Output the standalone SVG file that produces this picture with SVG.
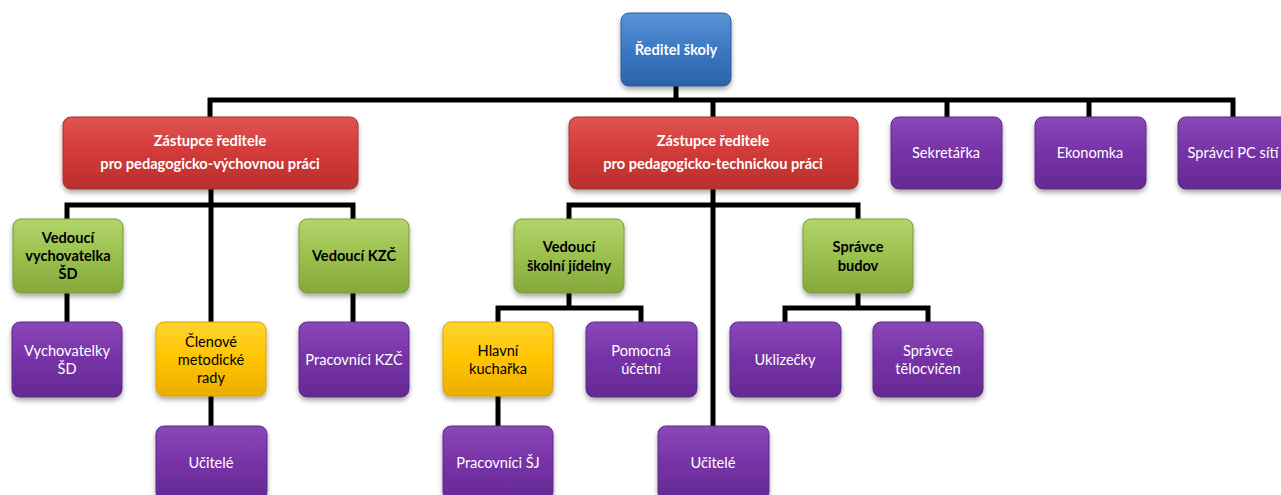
<svg xmlns="http://www.w3.org/2000/svg" width="1281" height="495" viewBox="0 0 1281 495">
<defs>
<linearGradient id="gBlue" x1="0" y1="0" x2="0" y2="1"><stop offset="0" stop-color="#5b95d6"/><stop offset="0.5" stop-color="#3a78c4"/><stop offset="1" stop-color="#2b63a8"/></linearGradient>
<linearGradient id="gRed" x1="0" y1="0" x2="0" y2="1"><stop offset="0" stop-color="#e05450"/><stop offset="0.5" stop-color="#d23a38"/><stop offset="1" stop-color="#b82f2d"/></linearGradient>
<linearGradient id="gGreen" x1="0" y1="0" x2="0" y2="1"><stop offset="0" stop-color="#b2d46a"/><stop offset="0.5" stop-color="#9bc04e"/><stop offset="1" stop-color="#84a83c"/></linearGradient>
<linearGradient id="gPurple" x1="0" y1="0" x2="0" y2="1"><stop offset="0" stop-color="#8a48b8"/><stop offset="0.5" stop-color="#7632a6"/><stop offset="1" stop-color="#652a92"/></linearGradient>
<linearGradient id="gYellow" x1="0" y1="0" x2="0" y2="1"><stop offset="0" stop-color="#ffd430"/><stop offset="0.5" stop-color="#ffc400"/><stop offset="1" stop-color="#eaae00"/></linearGradient>
<filter id="sh" x="-20%" y="-20%" width="140%" height="150%"><feDropShadow dx="0" dy="3" stdDeviation="2.5" flood-color="#000" flood-opacity="0.35"/></filter>
</defs>
<style>
.c{fill:none;stroke:#000;stroke-width:5;stroke-linejoin:miter;stroke-linecap:butt}
rect{filter:url(#sh)}
.blue{fill:url(#gBlue);stroke:#2a5e9e;stroke-width:1}
.red{fill:url(#gRed);stroke:#a83030;stroke-width:1}
.green{fill:url(#gGreen);stroke:#7a9c38;stroke-width:1}
.purple{fill:url(#gPurple);stroke:#5e2888;stroke-width:1}
.yellow{fill:url(#gYellow);stroke:#d8a400;stroke-width:1}
text{font-family:Lato,"Liberation Sans",sans-serif;font-size:14.6px;text-anchor:middle}
.wb{fill:#fff;font-weight:bold}
.bb{fill:#000;font-weight:bold}
.w{fill:#fff}
.b{fill:#000}
</style>
<g id="connectors">
<path class="c" d="M676 86 V100"/>
<path class="c" d="M210 117 V100 H1233 V117"/>
<path class="c" d="M713 100 V117 M947 100 V117 M1089 100 V117"/>
<path class="c" d="M67 219 V205 H353 V219"/>
<path class="c" d="M211 189 V322"/>
<path class="c" d="M67 293 V322 M353 293 V322 M211 396 V426"/>
<path class="c" d="M569 219 V205 H858 V219"/>
<path class="c" d="M713 189 V426"/>
<path class="c" d="M569 293 V308"/>
<path class="c" d="M498 322 V308 H641 V322"/>
<path class="c" d="M498 396 V426"/>
<path class="c" d="M858 293 V308"/>
<path class="c" d="M785 322 V308 H928 V322"/>
</g>
<g id="reditel"><rect class="blue" x="621" y="13" width="110" height="73" rx="8"/><text class="wb" x="676" y="55">Ředitel školy</text></g>
<g id="zastupce-vych"><rect class="red" x="63" y="117" width="295" height="72" rx="8"/><text class="wb" x="210" y="146">Zástupce ředitele</text><text class="wb" x="210" y="169">pro pedagogicko-výchovnou práci</text></g>
<g id="zastupce-tech"><rect class="red" x="569" y="117" width="289" height="72" rx="8"/><text class="wb" x="713" y="146">Zástupce ředitele</text><text class="wb" x="713" y="169">pro pedagogicko-technickou práci</text></g>
<g id="sekretarka"><rect class="purple" x="891" y="117" width="111" height="72" rx="8"/><text class="w" x="946" y="158">Sekretářka</text></g>
<g id="ekonomka"><rect class="purple" x="1035" y="117" width="111" height="72" rx="8"/><text class="w" x="1090" y="158">Ekonomka</text></g>
<g id="spravci-pc"><rect class="purple" x="1178" y="117" width="111" height="72" rx="8"/><text class="w" x="1233" y="158">Správci PC sítí</text></g>
<g id="vedouci-vych"><rect class="green" x="13" y="219" width="110" height="74" rx="8"/><text class="bb" x="68" y="243">Vedoucí</text><text class="bb" x="68" y="261">vychovatelka</text><text class="bb" x="68" y="279">ŠD</text></g>
<g id="vedouci-kzc"><rect class="green" x="299" y="219" width="110" height="74" rx="8"/><text class="bb" x="354" y="261">Vedoucí KZČ</text></g>
<g id="vedouci-sj"><rect class="green" x="514" y="219" width="110" height="74" rx="8"/><text class="bb" x="569" y="252">Vedoucí</text><text class="bb" x="569" y="271">školní jídelny</text></g>
<g id="spravce-budov"><rect class="green" x="803" y="219" width="110" height="74" rx="8"/><text class="bb" x="858" y="252">Správce</text><text class="bb" x="858" y="271">budov</text></g>
<g id="vychovatelky"><rect class="purple" x="12" y="322" width="110" height="75" rx="8"/><text class="w" x="67" y="356">Vychovatelky</text><text class="w" x="67" y="374">ŠD</text></g>
<g id="clenove"><rect class="yellow" x="156" y="322" width="110" height="74" rx="8"/><text class="b" x="211" y="347">Členové</text><text class="b" x="211" y="365">metodické</text><text class="b" x="211" y="383">rady</text></g>
<g id="pracovnici-kzc"><rect class="purple" x="299" y="322" width="110" height="75" rx="8"/><text class="w" x="354" y="365">Pracovníci KZČ</text></g>
<g id="hlavni-kucharka"><rect class="yellow" x="443" y="322" width="110" height="74" rx="8"/><text class="b" x="498" y="356">Hlavní</text><text class="b" x="498" y="374">kuchařka</text></g>
<g id="pomocna-ucetni"><rect class="purple" x="586" y="322" width="111" height="75" rx="8"/><text class="w" x="641" y="356">Pomocná</text><text class="w" x="641" y="374">účetní</text></g>
<g id="uklizecky"><rect class="purple" x="730" y="322" width="111" height="75" rx="8"/><text class="w" x="785" y="365">Uklizečky</text></g>
<g id="spravce-telocvicen"><rect class="purple" x="873" y="322" width="110" height="75" rx="8"/><text class="w" x="928" y="356">Správce</text><text class="w" x="928" y="374">tělocvičen</text></g>
<g id="ucitele-1"><rect class="purple" x="156" y="426" width="111" height="74" rx="8"/><text class="w" x="211" y="468">Učitelé</text></g>
<g id="pracovnici-sj"><rect class="purple" x="443" y="426" width="110" height="74" rx="8"/><text class="w" x="498" y="468">Pracovníci ŠJ</text></g>
<g id="ucitele-2"><rect class="purple" x="658" y="426" width="111" height="74" rx="8"/><text class="w" x="713" y="468">Učitelé</text></g>
</svg>
